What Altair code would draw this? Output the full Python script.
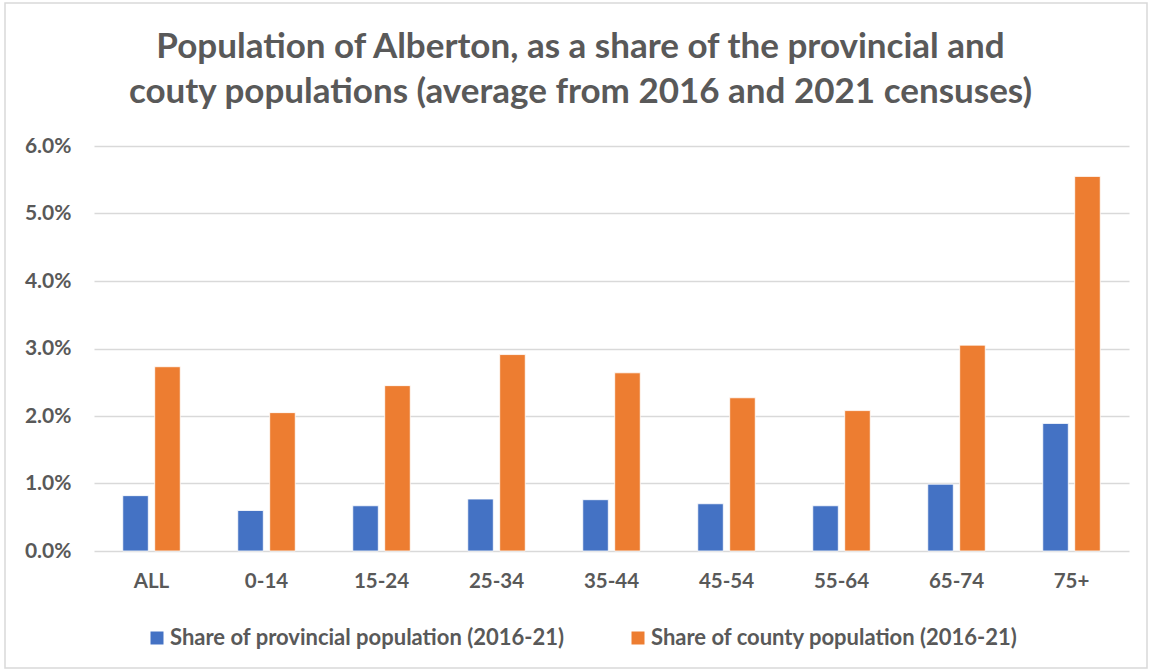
import altair as alt
import pandas as pd

categories = ["ALL", "0-14", "15-24", "25-34", "35-44", "45-54", "55-64", "65-74", "75+"]
provincial = [0.0082, 0.0060, 0.0067, 0.0077, 0.0076, 0.0070, 0.0067, 0.0099, 0.0189]
county = [0.0273, 0.0205, 0.0245, 0.0291, 0.0264, 0.0227, 0.0208, 0.0305, 0.0555]
series_names = ["Share of provincial population (2016-21)", "Share of county population (2016-21)"]
series_colors = ["#4472C4", "#ED7D31"]
title_lines = ["Population of Alberton, as a share of the provincial and",
               "couty populations (average from 2016 and 2021 censuses)"]

rows = []
for i, c in enumerate(categories):
    rows.append({"age": c, "series": series_names[0], "value": provincial[i]})
    rows.append({"age": c, "series": series_names[1], "value": county[i]})
df = pd.DataFrame(rows)

TXT = "#595959"
FONT = "Lato"

bars = alt.Chart(df).mark_bar(stroke="white", strokeWidth=0.8).encode(
    x=alt.X("age:N", sort=categories, title=None,
            scale=alt.Scale(paddingInner=0.5, paddingOuter=0.25),
            axis=alt.Axis(labelAngle=0, labelFont=FONT, labelFontSize=20.5, labelFontWeight="bold",
                          labelColor=TXT, ticks=False, domain=False, labelPadding=20)),
    xOffset=alt.XOffset("series:N", sort=series_names, scale=alt.Scale(paddingInner=0.2)),
    y=alt.Y("value:Q", title=None,
            scale=alt.Scale(domain=[0, 0.06], nice=False),
            axis=alt.Axis(values=[0, 0.01, 0.02, 0.03, 0.04, 0.05, 0.06], format=".1%",
                          labelFont=FONT, labelFontSize=21, labelFontWeight="bold", labelColor=TXT,
                          ticks=False, domain=False, labelPadding=23,
                          grid=True, gridColor="#d9d9d9", gridWidth=1.5)),
    color=alt.Color("series:N", sort=series_names,
                    scale=alt.Scale(domain=series_names, range=series_colors),
                    legend=alt.Legend(title=None, orient="none", direction="horizontal",
                                      legendX=52, legendY=481, padding=0,
                                      symbolType="square", symbolSize=169, symbolStrokeWidth=0,
                                      symbolOpacity=1,
                                      labelFont=FONT, labelFontSize=22, labelFontWeight="bold",
                                      labelColor=TXT,
                                      labelLimit=600, columnPadding=62, labelOffset=2)),
)

frame = alt.Chart(alt.Data(values=[{}])).mark_rect(
    fill=None, stroke="#d9d9d9", strokeWidth=1.5
).encode(x=alt.value(-89), x2=alt.value(1053), y=alt.value(-143), y2=alt.value(522))

chart = alt.layer(frame, bars).properties(
    width=1035, height=405,
    padding={"left": 94, "top": 146, "right": 22, "bottom": 120},
    autosize=alt.AutoSizeParams(type="none"),
    background="white",
    title=alt.TitleParams(text=title_lines, font=FONT, fontSize=35, fontWeight="bold",
                          color=TXT, anchor="middle", frame="group", dx=-31, dy=108, offset=0,
                          lineHeight=45),
).configure_view(stroke=None)

chart.save("out.html", embed_options={"renderer": "svg", "actions": False})
